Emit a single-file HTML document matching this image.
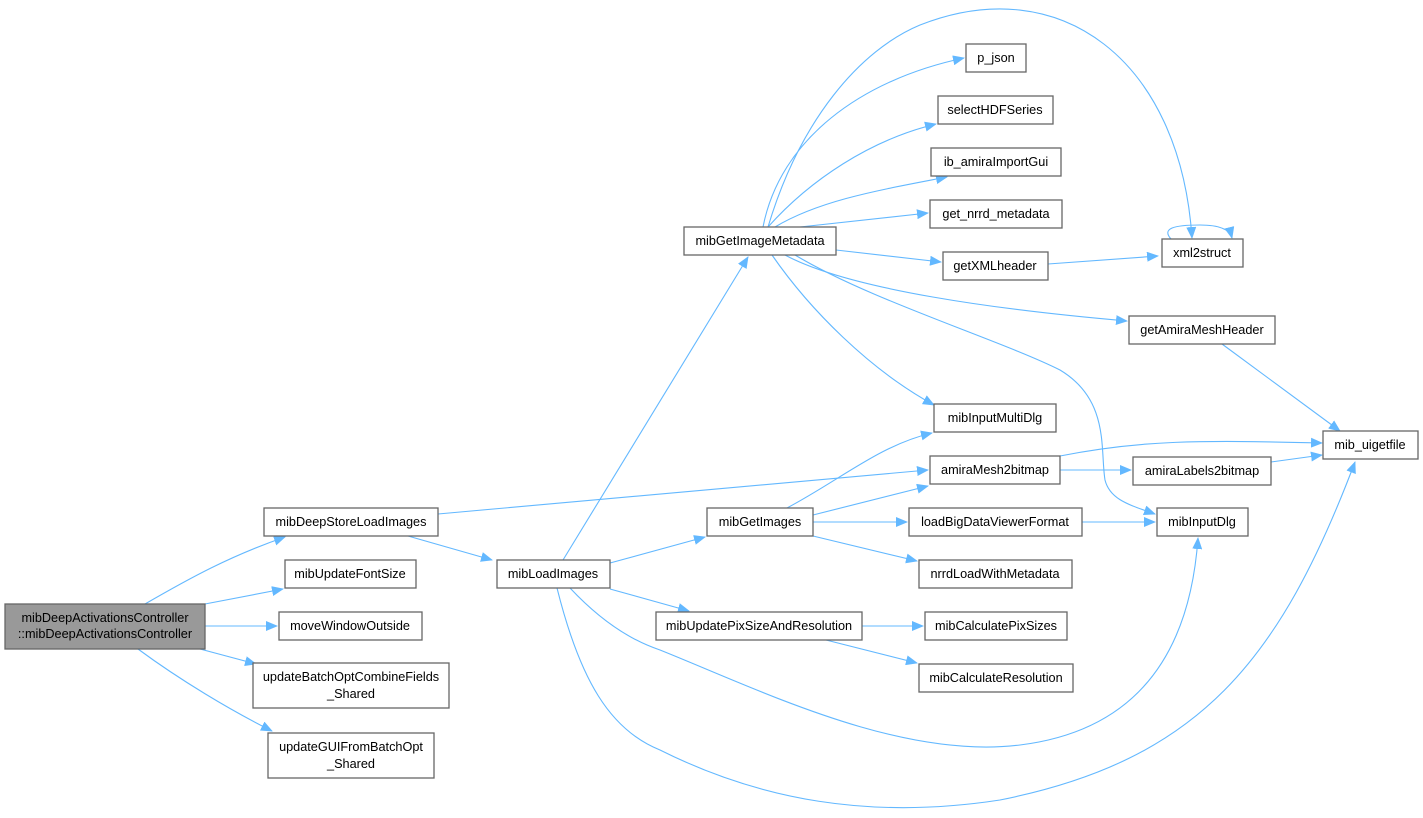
<!DOCTYPE html>
<html><head><meta charset="utf-8"><style>
html,body{margin:0;padding:0;background:#fff;}
svg{display:block;}
text{font-family:"Liberation Sans",sans-serif;font-size:12.7px;fill:#000;}
.n{fill:#fff;stroke:#666;stroke-width:1.3;}
.e{fill:none;stroke:#63b8ff;stroke-width:1.1;}
</style></head><body>
<svg width="1423" height="818" viewBox="0 0 1423 818" xmlns="http://www.w3.org/2000/svg">
<defs><marker id="a" markerWidth="12" markerHeight="10" refX="11" refY="5" orient="auto" markerUnits="userSpaceOnUse"><path d="M0,0 L12,5 L0,10 Z" fill="#63b8ff"/></marker></defs>
<g class="e" marker-end="url(#a)">
<path d="M145,604 C190,578 230,556 285,537"/>
<path d="M205,604 L283,589"/>
<path d="M205,626 L277,626"/>
<path d="M200,649 L256,664"/>
<path d="M138,649 C180,680 230,710 272,731"/>
<path d="M408,536 L492,560"/>
<path d="M438,514 L928,470"/>
<path d="M563,560 L748,257"/>
<path d="M610,563 L705,537"/>
<path d="M610,589 L689,611"/>
<path d="M570,588 C600,620 630,640 660,650 C760,690 900,760 1020,745 C1140,730 1190,650 1198,538"/>
<path d="M557,588 C580,680 610,730 660,750 C760,800 870,820 1000,800 C1200,760 1280,660 1355,462"/>
<path d="M763,227 C780,140 860,80 964,58"/>
<path d="M768,227 C810,180 870,140 936,124"/>
<path d="M775,227 C820,200 880,190 947,177"/>
<path d="M800,227 L928,213"/>
<path d="M836,250 L941,262"/>
<path d="M768,227 C800,120 860,50 920,25 C1060,-30 1180,60 1192,238"/>
<path d="M785,255 C850,290 1000,310 1127,321"/>
<path d="M772,255 C810,310 870,370 934,405"/>
<path d="M795,255 C870,300 1000,340 1060,370 C1110,400 1100,450 1105,480 C1110,500 1130,505 1155,514"/>
<path d="M1048,264 L1158,256"/>
<path d="M1172,240 C1160,228 1175,225 1200,225 C1220,225 1230,230 1232,238"/>
<path d="M1222,344 L1340,431"/>
<path d="M1060,456 C1140,440 1200,440 1322,443"/>
<path d="M1060,470 L1131,470"/>
<path d="M1271,462 L1322,455"/>
<path d="M787,508 C840,480 880,445 932,433"/>
<path d="M813,515 L928,486"/>
<path d="M813,522 L907,522"/>
<path d="M813,536 L917,561"/>
<path d="M1082,522 L1155,522"/>
<path d="M862,626 L923,626"/>
<path d="M826,640 L917,663"/>
</g>
<rect x="5" y="604" width="200" height="45" fill="#999" stroke="#666" stroke-width="1.3"/>
<text x="105" y="622" text-anchor="middle">mibDeepActivationsController</text>
<text x="105" y="638" text-anchor="middle">::mibDeepActivationsController</text>
<g>
<rect class="n" x="264" y="508" width="174" height="28"/><text x="351" y="526" text-anchor="middle">mibDeepStoreLoadImages</text>
<rect class="n" x="285" y="560" width="131" height="28"/><text x="350" y="578" text-anchor="middle">mibUpdateFontSize</text>
<rect class="n" x="279" y="612" width="143" height="28"/><text x="350" y="630" text-anchor="middle">moveWindowOutside</text>
<rect class="n" x="253" y="663" width="196" height="45"/><text x="351" y="681" text-anchor="middle">updateBatchOptCombineFields</text><text x="351" y="698" text-anchor="middle">_Shared</text>
<rect class="n" x="268" y="733" width="166" height="45"/><text x="351" y="751" text-anchor="middle">updateGUIFromBatchOpt</text><text x="351" y="768" text-anchor="middle">_Shared</text>
<rect class="n" x="497" y="560" width="113" height="28"/><text x="553" y="578" text-anchor="middle">mibLoadImages</text>
<rect class="n" x="684" y="227" width="152" height="28"/><text x="760" y="245" text-anchor="middle">mibGetImageMetadata</text>
<rect class="n" x="966" y="44" width="60" height="28"/><text x="996" y="62" text-anchor="middle">p_json</text>
<rect class="n" x="938" y="96" width="115" height="28"/><text x="995" y="114" text-anchor="middle">selectHDFSeries</text>
<rect class="n" x="931" y="148" width="130" height="28"/><text x="996" y="166" text-anchor="middle">ib_amiraImportGui</text>
<rect class="n" x="930" y="200" width="132" height="28"/><text x="996" y="218" text-anchor="middle">get_nrrd_metadata</text>
<rect class="n" x="943" y="252" width="105" height="28"/><text x="995" y="270" text-anchor="middle">getXMLheader</text>
<rect class="n" x="1162" y="239" width="81" height="28"/><text x="1202" y="257" text-anchor="middle">xml2struct</text>
<rect class="n" x="1129" y="316" width="146" height="28"/><text x="1202" y="334" text-anchor="middle">getAmiraMeshHeader</text>
<rect class="n" x="1323" y="431" width="95" height="28"/><text x="1370" y="449" text-anchor="middle">mib_uigetfile</text>
<rect class="n" x="934" y="404" width="122" height="28"/><text x="995" y="422" text-anchor="middle">mibInputMultiDlg</text>
<rect class="n" x="930" y="456" width="130" height="28"/><text x="995" y="474" text-anchor="middle">amiraMesh2bitmap</text>
<rect class="n" x="1133" y="457" width="138" height="28"/><text x="1202" y="475" text-anchor="middle">amiraLabels2bitmap</text>
<rect class="n" x="707" y="508" width="106" height="28"/><text x="760" y="526" text-anchor="middle">mibGetImages</text>
<rect class="n" x="909" y="508" width="173" height="28"/><text x="995" y="526" text-anchor="middle">loadBigDataViewerFormat</text>
<rect class="n" x="1157" y="508" width="91" height="28"/><text x="1202" y="526" text-anchor="middle">mibInputDlg</text>
<rect class="n" x="919" y="560" width="153" height="28"/><text x="995" y="578" text-anchor="middle">nrrdLoadWithMetadata</text>
<rect class="n" x="656" y="612" width="206" height="28"/><text x="759" y="630" text-anchor="middle">mibUpdatePixSizeAndResolution</text>
<rect class="n" x="925" y="612" width="142" height="28"/><text x="996" y="630" text-anchor="middle">mibCalculatePixSizes</text>
<rect class="n" x="919" y="664" width="154" height="28"/><text x="996" y="682" text-anchor="middle">mibCalculateResolution</text>
</g>
</svg>
</body></html>
